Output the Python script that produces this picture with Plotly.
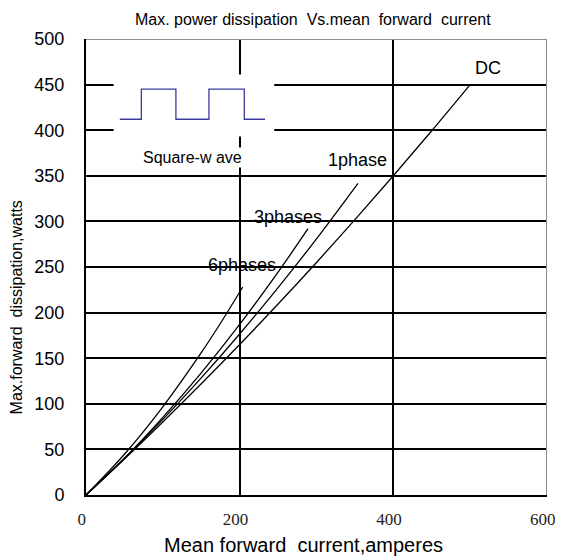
import plotly.graph_objects as go

# Data
DC_X = [0, 50, 100, 150, 200, 250, 300, 350, 400, 450, 500]
DC_Y = [0, 39.4, 80, 121.9, 165, 209.4, 255, 301.9, 350, 399.4, 450]

PH1_X = [0, 50, 100, 150, 200, 250, 300, 354]
PH1_Y = [0, 40.1, 82.9, 128.4, 176.5, 227.4, 280.9, 341.8]

PH3_X = [0, 50, 100, 150, 200, 250, 289]
PH3_Y = [0, 40.4, 85.1, 133.9, 187, 244.4, 292]

PH6_X = [0, 50, 100, 150, 175, 204]
PH6_Y = [0, 44.7, 96.7, 156, 188.3, 228.1]

SQUARE_X = [44, 72, 72, 117, 117, 160, 160, 206, 206, 233]
SQUARE_Y = [412, 412, 445, 445, 412, 412, 445, 445, 412, 412]

X_TICKS = [0, 200, 400, 600]
Y_TICKS = [0, 50, 100, 150, 200, 250, 300, 350, 400, 450, 500]

SANS = "Liberation Sans, Arial, sans-serif"
SERIF = "Liberation Serif, Times New Roman, serif"

fig = go.Figure()
line_style = dict(color="black", width=1.3)
for xs, ys in [(DC_X, DC_Y), (PH1_X, PH1_Y), (PH3_X, PH3_Y), (PH6_X, PH6_Y)]:
    fig.add_trace(go.Scatter(x=xs, y=ys, mode="lines", line=dict(shape="spline", **line_style),
                             showlegend=False, hoverinfo="skip"))

fig.add_trace(go.Scatter(x=SQUARE_X, y=SQUARE_Y, mode="lines",
                         line=dict(color="#3b3b9a", width=1.3), showlegend=False, hoverinfo="skip"))

shapes = [
    # white box of the inset (breaks the grid)
    dict(type="rect", xref="x", yref="y", x0=36, x1=245, y0=393, y1=461,
         fillcolor="white", line=dict(width=0), layer="between"),
    # grey top and right borders
    dict(type="line", xref="x", yref="y", x0=0, x1=600, y0=500, y1=500,
         line=dict(color="#8c8c8c", width=2), layer="above"),
    dict(type="line", xref="x", yref="y", x0=600, x1=600, y0=0, y1=500,
         line=dict(color="#8c8c8c", width=2), layer="above"),
]

annotations = [
    dict(text="DC", x=523, y=468, xref="x", yref="y", showarrow=False,
         font=dict(family=SANS, size=18, color="black")),
    dict(text="1phase", x=353.5, y=367, xref="x", yref="y", showarrow=False,
         font=dict(family=SANS, size=18, color="black")),
    dict(text="3phases", x=263, y=305, xref="x", yref="y", showarrow=False,
         font=dict(family=SANS, size=18, color="black")),
    dict(text="6phases", x=203, y=252, xref="x", yref="y", showarrow=False,
         font=dict(family=SANS, size=18, color="black")),
    dict(text="Square-w ave", x=138, y=370.6, xref="x", yref="y", showarrow=False,
         bgcolor="white", font=dict(family=SANS, size=16, color="black")),
    dict(text="Max. power dissipation  Vs.mean  forward  current", x=0.492, y=1.042,
         xref="paper", yref="paper", showarrow=False, xanchor="center", yanchor="middle",
         font=dict(family=SANS, size=16, color="black")),
    dict(text="Mean forward  current,amperes", x=0.471, y=-0.110,
         xref="paper", yref="paper", showarrow=False, xanchor="center", yanchor="middle",
         font=dict(family=SANS, size=20, color="black")),
    dict(text="Max.forward  dissipation,watts", x=-0.150, y=0.411, textangle=-90,
         xref="paper", yref="paper", showarrow=False, xanchor="center", yanchor="middle",
         font=dict(family=SANS, size=16, color="black")),
]

# the page body adds an 8 px offset, so the figure is 8 px smaller on each side
fig.update_layout(
    width=555, height=550,
    margin=dict(l=78, r=16, t=31, b=63),
    paper_bgcolor="white", plot_bgcolor="white",
    shapes=shapes, annotations=annotations,
    xaxis=dict(range=[0, 600], tickvals=X_TICKS,
               ticktext=[str(v) + "\u00a0\u00a0" for v in X_TICKS],
               showgrid=True, gridcolor="black", gridwidth=1.5, automargin=False,
               showline=True, linecolor="black", linewidth=2, zeroline=False,
               ticks="", ticklabelstandoff=8, ticklabeloverflow="allow",
               tickfont=dict(family=SERIF, size=17, color="#222")),
    yaxis=dict(range=[0, 500], tickvals=Y_TICKS, ticktext=[str(v) for v in Y_TICKS],
               showgrid=True, gridcolor="black", gridwidth=1.5, automargin=False,
               showline=True, linecolor="black", linewidth=2, zeroline=False,
               ticks="", ticklabelstandoff=16,
               tickfont=dict(family=SANS, size=18, color="black")),
)

fig.write_html("out.html")
